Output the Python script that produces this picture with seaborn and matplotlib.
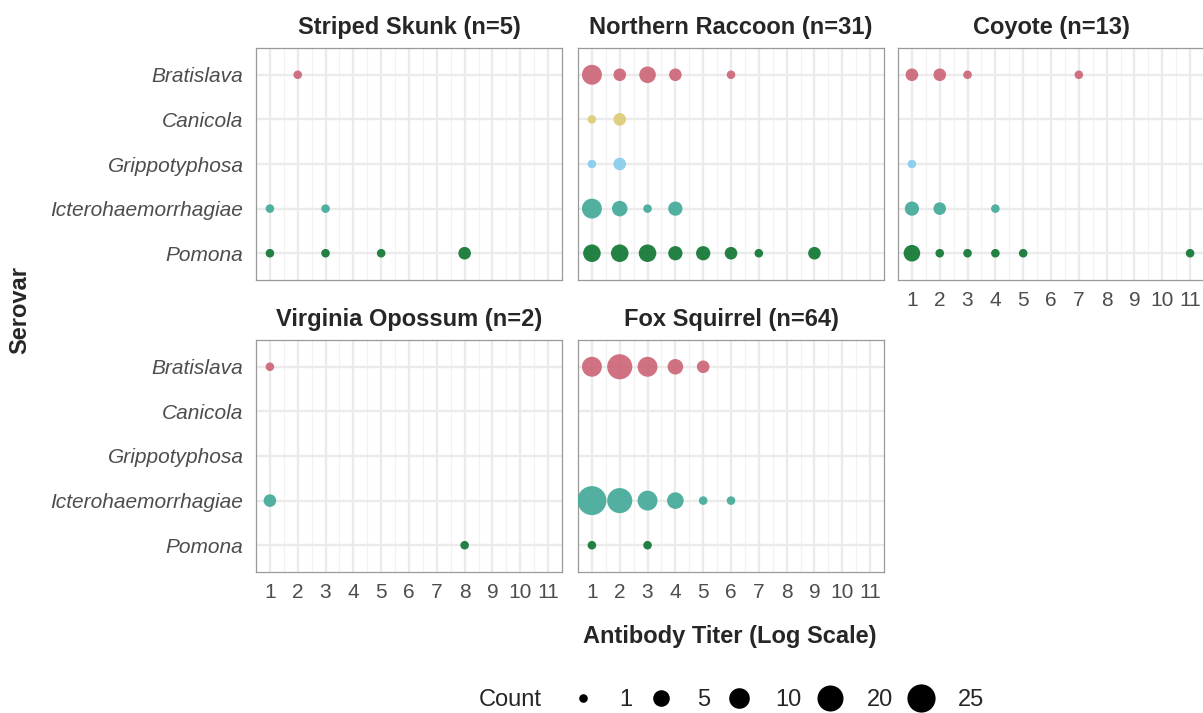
import numpy as np
import pandas as pd
import matplotlib
matplotlib.use("Agg")
import matplotlib.pyplot as plt
from matplotlib.lines import Line2D
import seaborn as sns

# ---------------- data ----------------
species = ["Striped Skunk", "Northern Raccoon", "Coyote", "Virginia Opossum", "Fox Squirrel"]
species_n = [5, 31, 13, 2, 64]
serovars = ["Bratislava", "Canicola", "Grippotyphosa", "Icterohaemorrhagiae", "Pomona"]
serovar_colors = ["#CC6677", "#DDCC77", "#88CCEE", "#44AA99", "#117733"]
titer_ticks = list(range(1, 12))
legend_counts = [1, 5, 10, 20, 25]

skunk_serovar = ["Bratislava", "Icterohaemorrhagiae", "Icterohaemorrhagiae",
                 "Pomona", "Pomona", "Pomona", "Pomona"]
skunk_titer = [2, 1, 3, 1, 3, 5, 8]
skunk_count = [1, 1, 1, 1, 1, 1, 2]

raccoon_serovar = ["Bratislava", "Bratislava", "Bratislava", "Bratislava", "Bratislava",
                   "Canicola", "Canicola", "Grippotyphosa", "Grippotyphosa",
                   "Icterohaemorrhagiae", "Icterohaemorrhagiae", "Icterohaemorrhagiae",
                   "Icterohaemorrhagiae",
                   "Pomona", "Pomona", "Pomona", "Pomona", "Pomona", "Pomona", "Pomona",
                   "Pomona"]
raccoon_titer = [1, 2, 3, 4, 6, 1, 2, 1, 2, 1, 2, 3, 4, 1, 2, 3, 4, 5, 6, 7, 9]
raccoon_count = [9, 2, 5, 2, 1, 1, 2, 1, 2, 9, 4, 1, 3, 6, 6, 6, 3, 3, 2, 1, 2]

coyote_serovar = ["Bratislava", "Bratislava", "Bratislava", "Bratislava",
                  "Grippotyphosa",
                  "Icterohaemorrhagiae", "Icterohaemorrhagiae", "Icterohaemorrhagiae",
                  "Pomona", "Pomona", "Pomona", "Pomona", "Pomona", "Pomona"]
coyote_titer = [1, 2, 3, 7, 1, 1, 2, 4, 1, 2, 3, 4, 5, 11]
coyote_count = [2, 2, 1, 1, 1, 3, 2, 1, 5, 1, 1, 1, 1, 1]

opossum_serovar = ["Bratislava", "Icterohaemorrhagiae", "Pomona"]
opossum_titer = [1, 1, 8]
opossum_count = [1, 2, 1]

squirrel_serovar = ["Bratislava", "Bratislava", "Bratislava", "Bratislava", "Bratislava",
                    "Icterohaemorrhagiae", "Icterohaemorrhagiae", "Icterohaemorrhagiae",
                    "Icterohaemorrhagiae", "Icterohaemorrhagiae", "Icterohaemorrhagiae",
                    "Pomona", "Pomona"]
squirrel_titer = [1, 2, 3, 4, 5, 1, 2, 3, 4, 5, 6, 1, 3]
squirrel_count = [9, 18, 9, 4, 2, 27, 18, 9, 5, 1, 1, 1, 1]

panel_data = [
    (skunk_serovar, skunk_titer, skunk_count),
    (raccoon_serovar, raccoon_titer, raccoon_count),
    (coyote_serovar, coyote_titer, coyote_count),
    (opossum_serovar, opossum_titer, opossum_count),
    (squirrel_serovar, squirrel_titer, squirrel_count),
]

# ---------------- style ----------------
sns.set_style("white")
plt.rcParams["font.family"] = ["Liberation Sans", "DejaVu Sans"]

W, H = 1203, 713
DPI = 100
fig = plt.figure(figsize=(W / DPI, H / DPI), dpi=DPI)

all_counts = sorted(set(sum([list(p[2]) for p in panel_data], [])) | set(legend_counts))
max_count = max(max(p[2]) for p in panel_data)


def diam_pt(c):
    # area-type size scale (diameter grows with sqrt of count)
    px = 8.6 + 20.4 * np.sqrt((c - 1) / (max_count - 1))
    return px * 72 / DPI


size_map = {c: diam_pt(c) ** 2 for c in all_counts}

lefts = [256, 578, 898]
tops = [48, 340]
pw, ph = 306, 232
tick_color = "#4d4d4d"

for i, (sp, n, (sv, tt, cc)) in enumerate(zip(species, species_n, panel_data)):
    r, c = divmod(i, 3)
    ax = fig.add_axes([lefts[c] / W, 1 - (tops[r] + ph) / H, pw / W, ph / H])
    df = pd.DataFrame({"serovar": sv, "titer": tt, "count": cc})
    df["ypos"] = df["serovar"].map({s: k for k, s in enumerate(serovars)})
    ax.set_axisbelow(True)
    sns.scatterplot(data=df, x="titer", y="ypos", hue="serovar", hue_order=serovars,
                    palette=serovar_colors, size="count", sizes=size_map,
                    linewidth=0, alpha=0.92, legend=False, ax=ax, zorder=3)
    ax.set_xlim(0.5, 11.5)
    ax.set_ylim(len(serovars) - 0.4, -0.6)
    ax.set_xticks(titer_ticks)
    ax.set_xticks(np.arange(1.5, 11.0, 1.0), minor=True)
    ax.set_yticks(range(len(serovars)))
    ax.grid(which="major", color="#ebebeb", linewidth=1.7)
    ax.grid(which="minor", axis="x", color="#f2f2f2", linewidth=0.9)
    ax.tick_params(which="minor", length=0)
    ax.tick_params(which="major", length=3, width=0.8, color="#b3b3b3",
                   labelsize=15, labelcolor=tick_color, pad=5)
    ax.tick_params(axis="y", pad=6)
    show_x = i in (2, 3, 4)
    if show_x:
        ax.set_xticklabels([str(t) for t in titer_ticks])
    else:
        ax.set_xticklabels([])
        ax.tick_params(axis="x", length=0)
    if c == 0:
        ax.set_yticklabels(serovars, fontstyle="italic")
    else:
        ax.set_yticklabels([])
        ax.tick_params(axis="y", length=0)
    ax.set_xlabel("")
    ax.set_ylabel("")
    for s in ax.spines.values():
        s.set_visible(True)
        s.set_color("#999999")
        s.set_linewidth(0.9)
    ax.set_title(f"{sp} (n={n})", fontsize=17, fontweight="bold", pad=10)

fig.text(730 / W, 1 - 636 / H, "Antibody Titer (Log Scale)", ha="center", va="center",
         fontsize=17, fontweight="bold")
fig.text(20 / W, 1 - 310 / H, "Serovar", ha="center", va="center", rotation=90,
         fontsize=17, fontweight="bold")

# legend
fig.text(510 / W, 1 - 700 / H, "Count", ha="center", va="center", fontsize=17)
handles = [Line2D([], [], marker="o", linestyle="", color="black", markeredgewidth=0,
                  markersize=diam_pt(v)) for v in legend_counts]
fig.legend(handles, [str(v) for v in legend_counts], loc="center",
           bbox_to_anchor=(775 / W, 1 - 700 / H), ncol=len(legend_counts), frameon=False,
           fontsize=17, handlelength=1.4, handletextpad=0.85, columnspacing=0.5,
           borderpad=0)

fig.savefig("out.png", dpi=DPI)
